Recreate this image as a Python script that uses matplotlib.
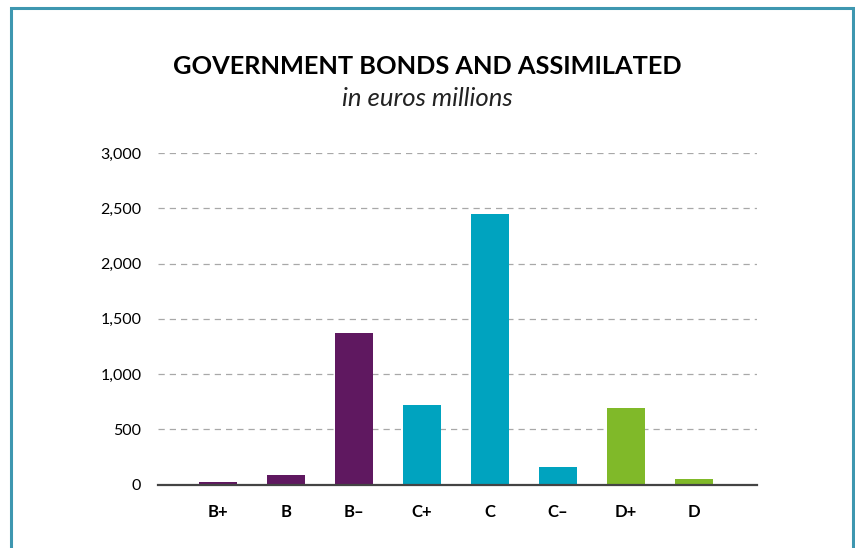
import matplotlib.pyplot as plt
from matplotlib.patches import Rectangle

# ratings and amounts (in euros millions)
ratings = ["B+", "B", "B\u2013", "C+", "C", "C\u2013", "D+", "D"]
amounts = [22, 88, 1370, 720, 2450, 160, 695, 50]
bar_colors = ["#5f1860", "#5f1860", "#5f1860",
              "#00a3bf", "#00a3bf", "#00a3bf",
              "#80b929", "#80b929"]
yticks = [0, 500, 1000, 1500, 2000, 2500, 3000]

plt.rcParams["font.family"] = ["Lato", "DejaVu Sans"]

fig = plt.figure(figsize=(8.55, 5.48), dpi=100)

# frame around the panel (open at the bottom)
fig.patches.append(Rectangle((11 / 855, -0.05), 842 / 855, 1 - 8 / 548 + 0.05,
                             transform=fig.transFigure, fill=False,
                             edgecolor="#3e97b0", linewidth=2.2))

ax = fig.add_axes([158 / 855, 63.5 / 548, 599 / 855, 331.5 / 548])

x = range(len(ratings))
ax.bar(x, amounts, width=0.56, color=bar_colors, zorder=3)

ax.set_xlim(-0.88, 7.93)
ax.set_ylim(0, 3000)
ax.set_yticks(yticks)
ax.set_yticklabels([f"{v:,}" for v in yticks], fontsize=11.5)
ax.set_xticks(list(x))
ax.set_xticklabels(ratings, fontsize=12, fontweight="bold")

ax.grid(axis="y", linestyle=(0, (5, 4)), color="#a8a8a8", linewidth=0.9, zorder=0)
for s in ["top", "right", "left"]:
    ax.spines[s].set_visible(False)
ax.spines["bottom"].set_color("#444444")
ax.spines["bottom"].set_linewidth(1.6)
ax.spines["bottom"].set_zorder(4)
ax.tick_params(axis="both", length=0)
ax.tick_params(axis="y", pad=12)
ax.tick_params(axis="x", pad=14)

fig.text(0.5, 1 - 67 / 548, "GOVERNMENT BONDS AND ASSIMILATED",
         ha="center", va="center", fontsize=18.3, fontweight="bold")
fig.text(0.5, 1 - 98 / 548, "in euros millions",
         ha="center", va="center", fontsize=18.5, style="italic", color="#222222")

plt.savefig("out.png", dpi=100)
